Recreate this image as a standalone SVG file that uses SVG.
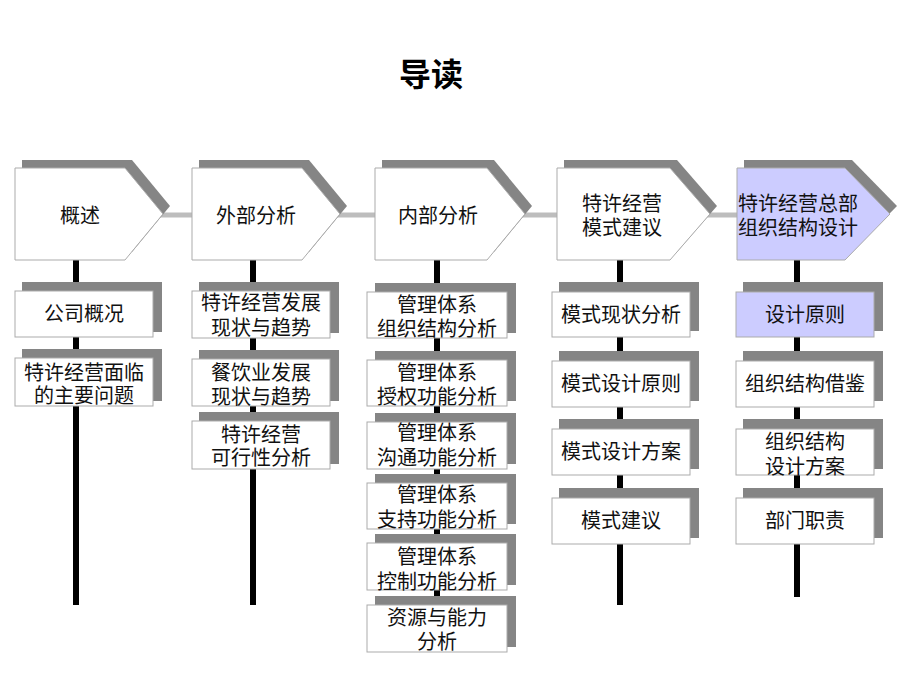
<svg xmlns="http://www.w3.org/2000/svg" width="920" height="690" viewBox="0 0 920 690">
<style>
text{font-family:"Noto Sans CJK SC","Noto Sans",sans-serif;font-size:20px;fill:#111;text-anchor:middle}
.title{font-size:32px;font-weight:bold;fill:#000}
.sh{fill:#858585}
.bx{fill:#fff;stroke:#ababab;stroke-width:1}
.hl{fill:#ccccff}
.vl{stroke:#000;stroke-width:6}
.hc{stroke:#bdbdbd;stroke-width:5}
</style>
<rect width="920" height="690" fill="#fff"/>
<text class="title" x="431" y="86">导读</text>
<g id="connectors">
<line class="hc" x1="160" y1="215" x2="194" y2="215"/>
<line class="hc" x1="337" y1="215" x2="377" y2="215"/>
<line class="hc" x1="522" y1="215" x2="559" y2="215"/>
<line class="hc" x1="707" y1="215" x2="739" y2="215"/>
<line class="vl" x1="76" y1="260" x2="76" y2="605"/>
<line class="vl" x1="253" y1="260" x2="253" y2="605"/>
<line class="vl" x1="437" y1="260" x2="437" y2="610"/>
<line class="vl" x1="620" y1="260" x2="620" y2="605"/>
<line class="vl" x1="797" y1="260" x2="797" y2="597"/>
</g>
<g id="h1">
<polygon class="sh" points="22,160 132,160 170,206 132,252 22,252"/>
<polygon class="bx" points="15,168 125,168 163,214 125,260 15,260"/>
<text x="80" y="223">概述</text>
</g>
<g id="h2">
<polygon class="sh" points="199,160 309,160 347,206 309,252 199,252"/>
<polygon class="bx" points="192,168 302,168 340,214 302,260 192,260"/>
<text x="256" y="223">外部分析</text>
</g>
<g id="h3">
<polygon class="sh" points="382,160 494,160 532,206 494,252 382,252"/>
<polygon class="bx" points="375,168 487,168 525,214 487,260 375,260"/>
<text x="438" y="223">内部分析</text>
</g>
<g id="h4">
<polygon class="sh" points="564,160 677,160 717,206 677,252 564,252"/>
<polygon class="bx" points="557,168 670,168 710,214 670,260 557,260"/>
<text x="622" y="211">特许经营<tspan x="622" dy="24">模式建议</tspan></text>
</g>
<g id="h5">
<polygon class="sh" points="744,160 852,160 897,206 852,252 744,252"/>
<polygon class="bx hl" points="737,168 845,168 890,214 845,260 737,260"/>
<text x="738" y="211" style="text-anchor:start">特许经营总部<tspan x="738" dy="24">组织结构设计</tspan></text>
</g>
<g id="c1a"><rect class="sh" x="22" y="282" width="140" height="50"/><rect class="bx" x="15" y="291" width="138" height="46"/><text x="84" y="321">公司概况</text></g>
<g id="c1b"><rect class="sh" x="22" y="349" width="140" height="52"/><rect class="bx" x="15" y="358" width="138" height="48"/><text x="84" y="380">特许经营面临<tspan x="84" dy="23">的主要问题</tspan></text></g>
<g id="c2a"><rect class="sh" x="199" y="282" width="140" height="51"/><rect class="bx" x="192" y="291" width="138" height="47"/><text x="261" y="310">特许经营发展<tspan x="261" dy="25">现状与趋势</tspan></text></g>
<g id="c2b"><rect class="sh" x="199" y="350" width="140" height="51"/><rect class="bx" x="192" y="359" width="138" height="47"/><text x="261" y="380">餐饮业发展<tspan x="261" dy="24">现状与趋势</tspan></text></g>
<g id="c2c"><rect class="sh" x="199" y="412" width="140" height="52"/><rect class="bx" x="192" y="421" width="138" height="48"/><text x="261" y="442">特许经营<tspan x="261" dy="23">可行性分析</tspan></text></g>
<g id="c3a"><rect class="sh" x="375" y="283" width="141" height="50"/><rect class="bx" x="367" y="292" width="140" height="46"/><text x="437" y="312">管理体系<tspan x="437" dy="24">组织结构分析</tspan></text></g>
<g id="c3b"><rect class="sh" x="375" y="351" width="141" height="50"/><rect class="bx" x="367" y="360" width="140" height="46"/><text x="437" y="380">管理体系<tspan x="437" dy="24">授权功能分析</tspan></text></g>
<g id="c3c"><rect class="sh" x="375" y="413" width="141" height="51"/><rect class="bx" x="367" y="422" width="140" height="47"/><text x="437" y="440">管理体系<tspan x="437" dy="25">沟通功能分析</tspan></text></g>
<g id="c3d"><rect class="sh" x="375" y="474" width="141" height="50"/><rect class="bx" x="367" y="483" width="140" height="46"/><text x="437" y="502">管理体系<tspan x="437" dy="25">支持功能分析</tspan></text></g>
<g id="c3e"><rect class="sh" x="375" y="534" width="141" height="51"/><rect class="bx" x="367" y="543" width="140" height="47"/><text x="437" y="564">管理体系<tspan x="437" dy="25">控制功能分析</tspan></text></g>
<g id="c3f"><rect class="sh" x="375" y="596" width="141" height="51"/><rect class="bx" x="367" y="605" width="140" height="47"/><text x="437" y="625">资源与能力<tspan x="437" dy="24">分析</tspan></text></g>
<g id="c4a"><rect class="sh" x="559" y="282" width="140" height="49"/><rect class="bx" x="552" y="292" width="138" height="45"/><text x="621" y="322">模式现状分析</text></g>
<g id="c4b"><rect class="sh" x="559" y="351" width="140" height="50"/><rect class="bx" x="552" y="361" width="138" height="46"/><text x="621" y="391">模式设计原则</text></g>
<g id="c4c"><rect class="sh" x="559" y="419" width="140" height="50"/><rect class="bx" x="552" y="429" width="138" height="46"/><text x="621" y="459">模式设计方案</text></g>
<g id="c4d"><rect class="sh" x="559" y="488" width="140" height="50"/><rect class="bx" x="552" y="498" width="138" height="46"/><text x="621" y="528">模式建议</text></g>
<g id="c5a"><rect class="sh" x="743" y="282" width="140" height="49"/><rect class="bx hl" x="736" y="292" width="138" height="45"/><text x="805" y="322">设计原则</text></g>
<g id="c5b"><rect class="sh" x="743" y="351" width="140" height="50"/><rect class="bx" x="736" y="361" width="138" height="46"/><text x="805" y="391">组织结构借鉴</text></g>
<g id="c5c"><rect class="sh" x="743" y="419" width="140" height="50"/><rect class="bx" x="736" y="429" width="138" height="46"/><text x="805" y="449">组织结构<tspan x="805" dy="25">设计方案</tspan></text></g>
<g id="c5d"><rect class="sh" x="743" y="488" width="140" height="50"/><rect class="bx" x="736" y="498" width="138" height="46"/><text x="805" y="528">部门职责</text></g>
</svg>
